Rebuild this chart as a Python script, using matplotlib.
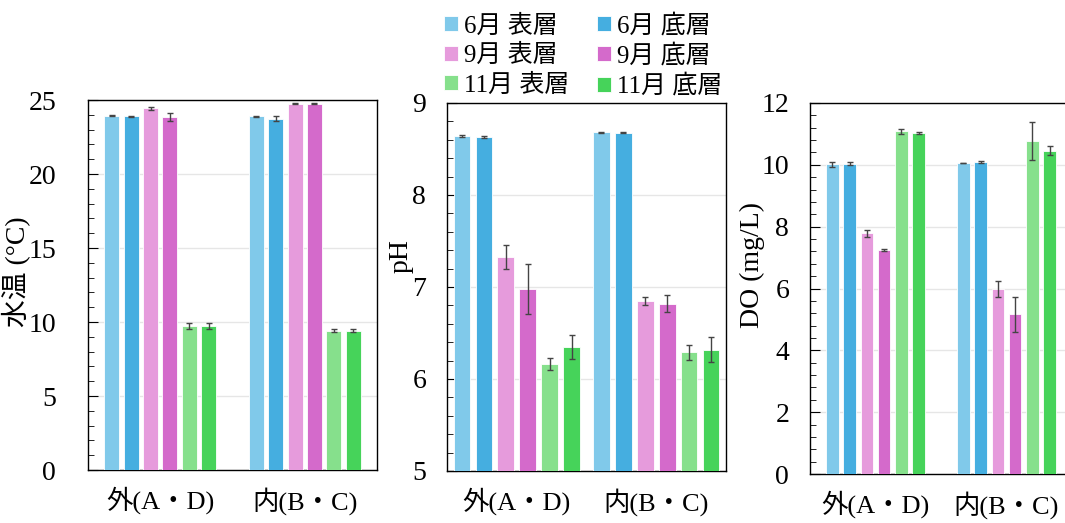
import matplotlib.pyplot as plt
import numpy as np
from matplotlib.ticker import MultipleLocator

plt.rcParams['font.family'] = ['Liberation Serif', 'Noto Sans CJK JP']

groups = ['外(A・D)', '内(B・C)']
series = ['6月 表層', '6月 底層', '9月 表層', '9月 底層', '11月 表層', '11月 底層']
colors = ['#80c9ea', '#45aee0', '#e69bdc', '#d46acb', '#86e08c', '#46d35a']

# 水温
temp = [[23.95, 23.9], [23.9, 23.75], [24.45, 24.75], [23.85, 24.75], [9.75, 9.4], [9.75, 9.4]]
temp_err = [[0.03, 0.03], [0.05, 0.2], [0.1, 0.05], [0.25, 0.05], [0.2, 0.1], [0.2, 0.1]]
# pH
ph = [[8.645, 8.68], [8.63, 8.677], [7.33, 6.85], [6.98, 6.82], [6.16, 6.29], [6.35, 6.32]]
ph_err = [[0.01, 0.005], [0.01, 0.005], [0.13, 0.045], [0.27, 0.09], [0.065, 0.085], [0.13, 0.135]]
# DO
do = [[10.02, 10.06], [10.04, 10.09], [7.78, 5.97], [7.24, 5.16], [11.08, 10.78], [11.03, 10.46]]
do_err = [[0.08, 0.01], [0.06, 0.02], [0.11, 0.26], [0.04, 0.56], [0.09, 0.61], [0.04, 0.15]]

fig = plt.figure(figsize=(10.65, 5.23), dpi=100)
W, H = 1065, 523

def panel(rect, vals, errs, ylim, major, minor, ylabel, step, width, pad, labxy):
    l, t, r, b = rect
    ax = fig.add_axes([l / W, 1 - b / H, (r - l) / W, (b - t) / H])
    x = np.arange(len(groups))
    for i in range(len(series)):
        off = (i - 2.5) * step
        ax.bar(x + off, vals[i], width, yerr=errs[i], color=colors[i],
               edgecolor='white', linewidth=0.6, label=series[i],
               error_kw=dict(ecolor='#444444', elinewidth=1, capsize=2.5, capthick=1),
               zorder=3)
    ax.set_xlim(-0.5, 1.5)
    ax.set_ylim(*ylim)
    ax.yaxis.set_major_locator(MultipleLocator(major))
    ax.yaxis.set_minor_locator(MultipleLocator(minor))
    ax.tick_params(axis='y', which='major', direction='in', length=7, labelsize=20, pad=pad)
    ax.tick_params(axis='y', which='minor', direction='in', length=4)
    ax.tick_params(axis='x', length=0, labelsize=19, pad=12)
    ax.set_xticks(x)
    ax.set_xticklabels(groups)
    ax.grid(axis='y', color='#e6e6e6', linewidth=1, zorder=0)
    ax.set_ylabel(ylabel, fontsize=20)
    # label position in pixels (right edge x, centre y)
    ax.yaxis.set_label_coords((labxy[0] - l) / (r - l), (b - labxy[1]) / (b - t))
    for s in ax.spines.values():
        s.set_linewidth(1.0)
    return ax

ax1 = panel((88, 100, 377, 470), temp, temp_err, (0, 25), 5, 1, '水温 (°C)',
            0.134, 0.103, 23, (31, 272))
ax2 = panel((447, 103, 726, 471), ph, ph_err, (5, 9), 1, 0.2, 'pH',
            0.157, 0.12, 15, (414, 256))
ax3 = panel((810, 103, 1072, 474), do, do_err, (0, 12), 2, 0.4, 'DO (mg/L)',
            0.132, 0.097, 15, (765, 265))

h, lab = ax1.get_legend_handles_labels()
order = [0, 2, 4, 1, 3, 5]
fig.legend([h[i] for i in order], [lab[i] for i in order], ncol=2,
           loc='upper center', bbox_to_anchor=(583 / W, 1.0), frameon=False,
           fontsize=18, handlelength=0.55, handleheight=0.55, handletextpad=0.25,
           columnspacing=1.1, labelspacing=0.25, borderaxespad=0.15)

fig.savefig('out.png', dpi=100)
